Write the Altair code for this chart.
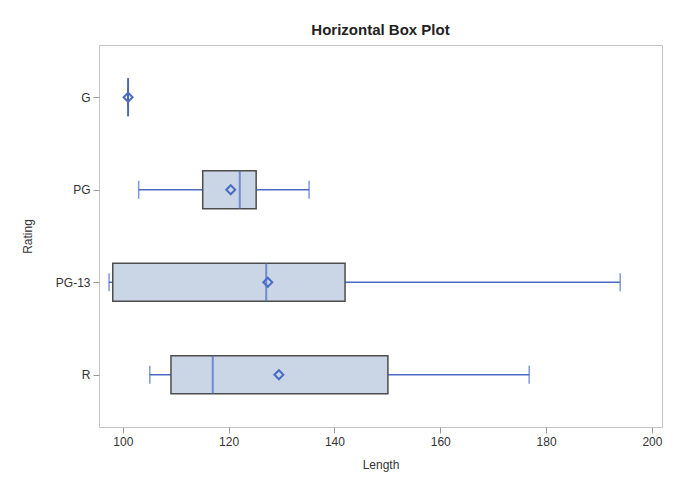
import altair as alt
import pandas as pd

ratings = ["G", "PG", "PG-13", "R"]
mins = [101.0, 103.0, 97.4, 105.1]
q1s = [101.0, 115.1, 98.1, 109.1]
medians = [101.0, 122.1, 127.1, 117.0]
q3s = [101.0, 125.2, 142.0, 150.1]
maxs = [101.0, 135.2, 194.0, 176.8]
means = [101.0, 120.4, 127.4, 129.5]
x_ticks = [100, 120, 140, 160, 180, 200]

df = pd.DataFrame({
    "Rating": ratings, "lo": mins, "q1": q1s, "med": medians,
    "q3": q3s, "hi": maxs, "mean": means,
})

FONT = "Liberation Sans"
BLUE = "#4A6CC4"
FILL = "#CAD5E6"
EDGE = "#4D4D4D"

xscale = alt.Scale(domain=[95.5, 201.9], nice=False, zero=False)
yscale = alt.Scale(type="point", padding=0.565, domain=ratings)

xaxis = alt.Axis(values=x_ticks, title="Length", grid=False, domain=False,
                 tickColor="#999999", tickSize=6, labelPadding=3,
                 labelColor="#333333", labelFontSize=12, labelFont=FONT,
                 titleFont=FONT, titleFontSize=12, titleFontWeight="normal",
                 titleColor="#333333", titlePadding=12)
yaxis = alt.Axis(title="Rating", grid=False, domain=False,
                 tickColor="#999999", tickSize=6, labelPadding=3,
                 labelColor="#333333", labelFontSize=12, labelFont=FONT,
                 titleFont=FONT, titleFontSize=12, titleFontWeight="normal",
                 titleColor="#333333", titlePadding=21)

base = alt.Chart(df)
Y = alt.Y("Rating:N", scale=yscale, axis=yaxis)

whisker = base.mark_rule(color=BLUE, strokeWidth=1.5).encode(
    x=alt.X("lo:Q", scale=xscale, axis=xaxis), x2="hi:Q", y=Y)
cap_lo = base.mark_tick(color=BLUE, size=18, thickness=1.5).encode(
    x=alt.X("lo:Q", scale=xscale, axis=xaxis), y=Y)
cap_hi = base.mark_tick(color=BLUE, size=18, thickness=1.5).encode(
    x=alt.X("hi:Q", scale=xscale, axis=xaxis), y=Y)
box = base.mark_bar(size=38, fill=FILL, stroke=EDGE, strokeWidth=1.5).encode(
    x=alt.X("q1:Q", scale=xscale, axis=xaxis), x2="q3:Q", y=Y)
median = base.mark_tick(color=BLUE, size=38, thickness=2).encode(
    x=alt.X("med:Q", scale=xscale, axis=xaxis), y=Y)
mean = base.mark_point(shape="diamond", filled=False, color=BLUE, size=80,
                       strokeWidth=2, opacity=1).encode(
    x=alt.X("mean:Q", scale=xscale, axis=xaxis), y=Y)

chart = alt.layer(whisker, cap_lo, cap_hi, box, median, mean).properties(
    width=563, height=382,
    title=alt.TitleParams("Horizontal Box Plot", font=FONT, fontSize=15,
                          fontWeight="bold", color="#222222",
                          anchor="middle", offset=7),
    autosize=alt.AutoSizeParams(type="none"),
    padding={"left": 91, "top": 37, "right": 11, "bottom": 49},
    background="white",
).configure_view(stroke="#C4C4C4", strokeWidth=1)

chart.save("out.html", embed_options={"renderer": "svg", "actions": False})
